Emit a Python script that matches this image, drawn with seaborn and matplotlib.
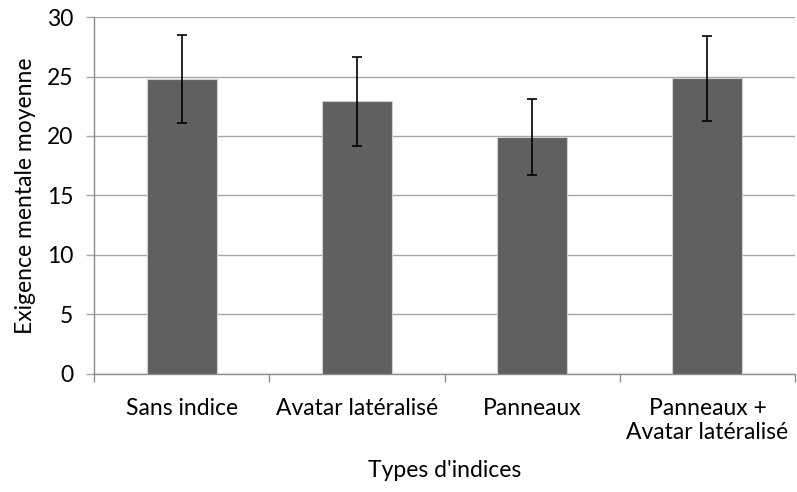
import matplotlib
matplotlib.use("Agg")
import matplotlib.pyplot as plt
import matplotlib.ticker as mticker
import seaborn as sns
import pandas as pd

categories = ["Sans indice", "Avatar latéralisé", "Panneaux", "Panneaux +\nAvatar latéralisé"]
means = [24.8, 22.9, 19.9, 24.85]
errors = [3.7, 3.73, 3.17, 3.55]
yticks = [0, 5, 10, 15, 20, 25, 30]

sns.set_theme(style="white")
plt.rcParams['font.family'] = ['Lato', 'DejaVu Sans']

df = pd.DataFrame({"cat": categories, "mean": means})

fig = plt.figure(figsize=(7.97, 4.92), dpi=100)
ax = fig.add_axes([0.118, 0.240, 0.8795, 0.7254])

sns.barplot(data=df, x="cat", y="mean", ax=ax, color="#606060", saturation=1,
            width=0.4, edgecolor="#d0d0d0", linewidth=0.8, zorder=3)

for patch, err in zip(ax.patches, errors):
    cx = patch.get_x() + patch.get_width() / 2
    h = patch.get_height()
    ax.errorbar(cx, h, yerr=err, fmt="none", ecolor="black", elinewidth=1.2,
                capsize=3.6, capthick=1.2, zorder=4)

ax.set_ylim(0, 30)
ax.set_yticks(yticks)
ax.set_xlim(-0.5, len(categories) - 0.5)
ax.yaxis.grid(True, color="#a6a6a6", linewidth=1.0, zorder=0)
ax.set_axisbelow(True)

for s in ["top", "right"]:
    ax.spines[s].set_visible(False)
for s in ["left", "bottom"]:
    ax.spines[s].set_color("#8c8c8c")
    ax.spines[s].set_linewidth(1.0)

FS = 16.5
ax.xaxis.set_major_locator(mticker.FixedLocator([i - 0.5 for i in range(len(categories) + 1)]))
ax.xaxis.set_major_formatter(mticker.NullFormatter())
ax.xaxis.set_minor_locator(mticker.FixedLocator(list(range(len(categories)))))
ax.xaxis.set_minor_formatter(mticker.FixedFormatter(categories))
ax.tick_params(axis="x", which="major", length=6, color="#8c8c8c", width=1.0, direction="out", bottom=True)
ax.tick_params(axis="x", which="minor", length=0, labelsize=FS, pad=17, labelcolor="black")
ax.tick_params(axis="y", length=6, color="#a6a6a6", width=1.0, direction="out", left=True,
               labelsize=FS, pad=9, labelcolor="black")

ax.set_xlabel("Types d'indices", fontsize=FS, labelpad=12, color="black")
ax.set_ylabel("Exigence mentale moyenne", fontsize=FS, labelpad=8, color="black")

fig.savefig("out.png", dpi=100)
